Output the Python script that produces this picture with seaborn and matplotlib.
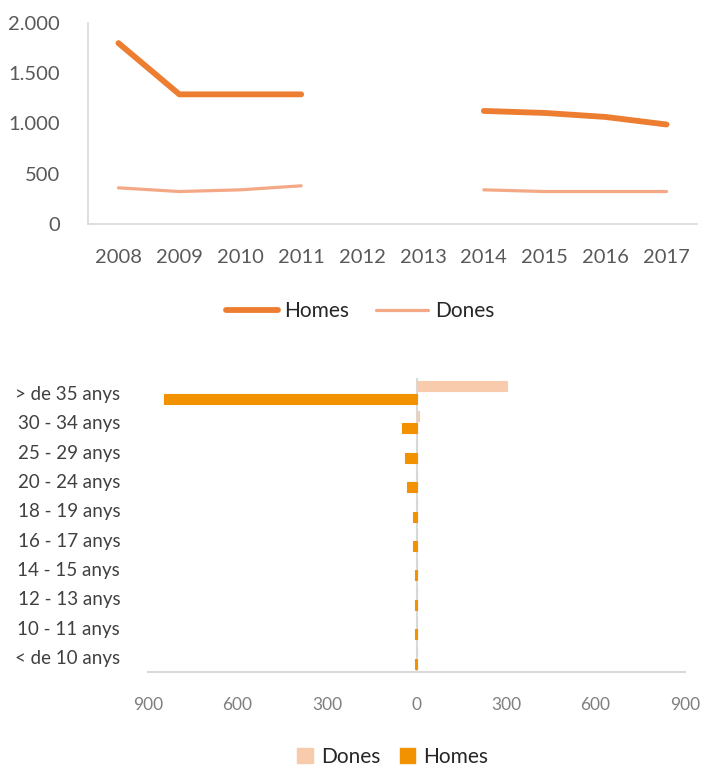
import matplotlib.pyplot as plt
import numpy as np
import pandas as pd
import seaborn as sns
from matplotlib.patches import Patch
from matplotlib.lines import Line2D

# top chart: yearly totals (2012 and 2013 missing)
years = ['2008', '2009', '2010', '2011', '2012', '2013', '2014', '2015', '2016', '2017']
homes_year = [1800, 1290, 1290, 1290, np.nan, np.nan, 1125, 1105, 1065, 990]
dones_year = [360, 323, 340, 380, np.nan, np.nan, 340, 323, 323, 323]

# bottom chart: age pyramid
ages = ['> de 35 anys', '30 - 34 anys', '25 - 29 anys', '20 - 24 anys', '18 - 19 anys',
        '16 - 17 anys', '14 - 15 anys', '12 - 13 anys', '10 - 11 anys', '< de 10 anys']
dones_age = [305, 10, 3, 3, 3, 3, 2, 2, 2, 1]
homes_age = [845, 47, 40, 33, 13, 13, 6, 6, 6, 6]

c_homes_line = '#ED7D31'
c_dones_line = '#F4A886'
c_homes_bar = '#F39200'
c_dones_bar = '#F8CBAD'
spine_col = '#D9D9D9'

sns.set_style('white')
plt.rcParams['font.family'] = ['Lato', 'DejaVu Sans']

fig = plt.figure(figsize=(7.07, 7.69), dpi=100)

# ---- top line chart
ax1 = fig.add_axes([88/707, 545/769, 609/707, 201/769])
rows = []
for name, vals in [('Homes', homes_year), ('Dones', dones_year)]:
    seg = 0
    for i, v in enumerate(vals):
        if np.isnan(v):
            seg += 1
            continue
        rows.append({'pos': i, 'valor': v, 'serie': name, 'seg': seg})
df_top = pd.DataFrame(rows)

sns.lineplot(data=df_top[df_top.serie == 'Homes'], x='pos', y='valor', units='seg',
             estimator=None, color=c_homes_line, lw=4.2, solid_capstyle='round', ax=ax1)
sns.lineplot(data=df_top[df_top.serie == 'Dones'], x='pos', y='valor', units='seg',
             estimator=None, color=c_dones_line, lw=2.3, solid_capstyle='round', ax=ax1)
ax1.set_xlim(-0.5, 9.5)
ax1.set_ylim(0, 2000)
ax1.set_xticks(range(len(years)))
ax1.set_xticklabels(years)
ax1.set_yticks([0, 500, 1000, 1500, 2000])
ax1.set_yticklabels(['0', '500', '1.000', '1.500', '2.000'])
ax1.tick_params(axis='x', labelsize=14.5, colors='#595959', length=0, pad=18)
ax1.tick_params(axis='y', labelsize=14.5, colors='#595959', length=0, pad=20)
ax1.set_xlabel('')
ax1.set_ylabel('')
for s in ['top', 'right']:
    ax1.spines[s].set_visible(False)
for s in ['left', 'bottom']:
    ax1.spines[s].set_color(spine_col)
    ax1.spines[s].set_linewidth(1.2)
h1 = [Line2D([], [], color=c_homes_line, lw=4.2, solid_capstyle='round'),
      Line2D([], [], color=c_dones_line, lw=2.3, solid_capstyle='round')]
fig.legend(h1, ['Homes', 'Dones'], loc='center', bbox_to_anchor=(360/707, 1 - 311/769),
           ncol=2, frameon=False, fontsize=15, handlelength=2.5, columnspacing=1.3,
           handletextpad=0.3)

# ---- bottom pyramid
ax2 = fig.add_axes([148/707, 97/769, 537/707, 294/769])
df_bot = pd.DataFrame({
    'edat': ages * 2,
    'valor': dones_age + [-v for v in homes_age],
    'sexe': ['Dones'] * len(ages) + ['Homes'] * len(ages),
})
sns.barplot(data=df_bot, y='edat', x='valor', hue='sexe', order=ages,
            hue_order=['Dones', 'Homes'], palette=[c_dones_bar, c_homes_bar],
            orient='h', width=0.85, gap=0.2, saturation=1, legend=False,
            linewidth=0.8, ax=ax2)
for bar, col in zip(ax2.patches, [c_dones_bar] * len(ages) + [c_homes_bar] * len(ages)):
    bar.set_edgecolor(col)
ax2.set_xlim(-900, 900)
ax2.set_ylim(9.5, -0.5)
ax2.set_xticks([-900, -600, -300, 0, 300, 600, 900])
ax2.set_xticklabels(['900', '600', '300', '0', '300', '600', '900'])
ax2.axvline(0, color=spine_col, lw=1.5, zorder=0)
ax2.tick_params(axis='x', labelsize=12.5, colors='#7F7F7F', length=0, pad=18)
ax2.tick_params(axis='y', labelsize=13.5, colors='#404040', length=0, pad=20)
ax2.set_xlabel('')
ax2.set_ylabel('')
for s in ['top', 'right', 'left']:
    ax2.spines[s].set_visible(False)
ax2.spines['bottom'].set_color(spine_col)
ax2.spines['bottom'].set_linewidth(1.5)
h2 = [Patch(color=c_dones_bar), Patch(color=c_homes_bar)]
fig.legend(h2, ['Dones', 'Homes'], loc='center', bbox_to_anchor=(393/707, 1 - 757/769),
           ncol=2, frameon=False, fontsize=15, handlelength=0.75, handleheight=0.75,
           columnspacing=0.9, handletextpad=0.4)

fig.savefig('out.png', dpi=100)
